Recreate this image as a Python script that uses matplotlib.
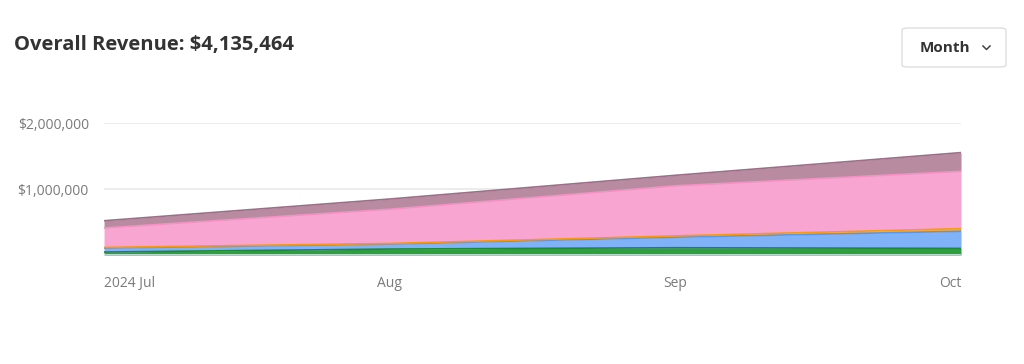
import numpy as np
import matplotlib.pyplot as plt
from matplotlib.patches import FancyBboxPatch
from matplotlib.lines import Line2D
from matplotlib.ticker import FuncFormatter

plt.rcParams['font.family'] = ['Open Sans', 'DejaVu Sans']

# data (stacked, bottom to top), in dollars
months = ["2024 Jul", "Aug", "Sep", "Oct"]
green = [45000, 90000, 110000, 100000]
blue = [60000, 75000, 160000, 260000]
orange = [10000, 10000, 20000, 40000]
pink = [295000, 520000, 760000, 870000]
mauve = [110000, 155000, 160000, 285000]
title_total = "$4,135,464"

layers = [
    (green, "#2e9e3e", "#1e8a30"),
    (blue, "#7fb2f7", "#5a95e8"),
    (orange, "#f5b041", "#f39c12"),
    (pink, "#f9a5d2", "#f490c4"),
    (mauve, "#b98ba0", "#9e6e88"),
]

fig = plt.figure(figsize=(10.24, 3.64), dpi=100)
ax = fig.add_axes([0.1016, 0.2995, 0.8369, 0.3618])

x = np.arange(len(months))
base = np.zeros(len(months))
for vals, fill, edge in layers:
    top = base + np.array(vals)
    ax.fill_between(x, base, top, color=fill, lw=0, zorder=2)
    ax.plot(x, top, color=edge, lw=1.2, zorder=3)
    base = top
ax.plot(x, np.zeros(len(months)), color="#d8e4ee", lw=1.2, zorder=3)

ax.set_xlim(0, len(months) - 1)
ax.set_ylim(0, 2000000)
ax.set_yticks([1000000, 2000000])
ax.yaxis.set_major_formatter(FuncFormatter(lambda v, p: f"${v:,.0f}"))
ax.grid(axis="y", color="#e9e9e9", lw=1.2, zorder=0)
ax.set_axisbelow(True)
for s in ax.spines.values():
    s.set_visible(False)
ax.tick_params(axis="both", length=0, colors="#7a7a7a", labelsize=10)
ax.tick_params(axis="y", pad=11)
ax.tick_params(axis="x", pad=15)
ax.set_xticks(x)
ax.set_xticklabels(months)
labs = ax.get_xticklabels()
labs[0].set_ha("left")
labs[-1].set_ha("right")

fig.text(0.0137, 0.8626, f"Overall Revenue: {title_total}", fontsize=14.5, fontweight="bold",
         color="#333333", va="baseline", ha="left")

# "Month" dropdown button
btn = FancyBboxPatch((902 / 1024, 1 - 67 / 364), 104 / 1024, 39 / 364,
                     boxstyle="round,pad=0,rounding_size=0.006", transform=fig.transFigure,
                     facecolor="white", edgecolor="#dedede", lw=1)
fig.patches.append(btn)
fig.text(945 / 1024, 1 - 48.5 / 364, "Month", fontsize=11, fontweight="bold", color="#333333",
         ha="center", va="center")
fig.lines.append(Line2D([983 / 1024, 986.5 / 1024, 990 / 1024],
                        [1 - 46 / 364, 1 - 49.5 / 364, 1 - 46 / 364],
                        transform=fig.transFigure, color="#444444", lw=1.1))

fig.savefig("out.png", dpi=100)
